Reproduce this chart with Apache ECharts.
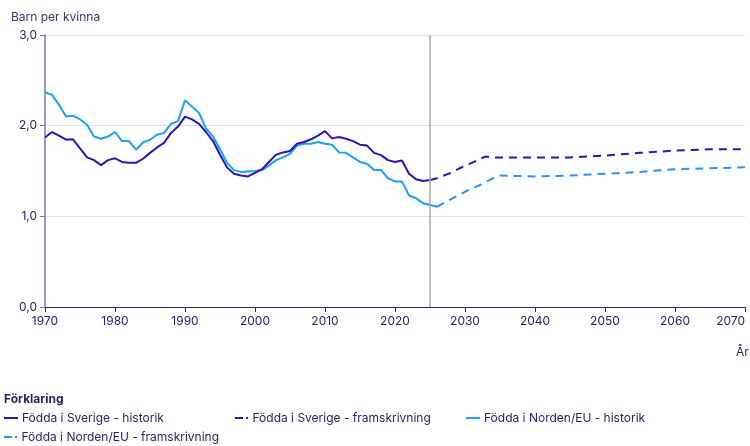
<!DOCTYPE html>
<html><head><meta charset="utf-8">
<script src="https://cdn.jsdelivr.net/npm/echarts@6/dist/echarts.min.js"></script>
<style>html,body{margin:0;padding:0;background:#fff}#c{width:750px;height:446px}</style>
</head><body><div id="c"></div>
<script>
const histYears = [1970,1971,1972,1973,1974,1975,1976,1977,1978,1979,1980,1981,1982,1983,1984,1985,1986,1987,1988,1989,1990,1991,1992,1993,1994,1995,1996,1997,1998,1999,2000,2001,2002,2003,2004,2005,2006,2007,2008,2009,2010,2011,2012,2013,2014,2015,2016,2017,2018,2019,2020,2021,2022,2023,2024,2025,2026];
const sverigeHist = [1.87,1.93,1.89,1.845,1.85,1.75,1.65,1.62,1.565,1.62,1.64,1.60,1.59,1.59,1.635,1.70,1.76,1.81,1.92,1.99,2.10,2.07,2.02,1.93,1.83,1.68,1.54,1.47,1.45,1.44,1.48,1.52,1.60,1.68,1.705,1.72,1.80,1.82,1.85,1.89,1.94,1.86,1.875,1.855,1.83,1.79,1.78,1.70,1.675,1.62,1.60,1.615,1.47,1.41,1.39,1.40];
const nordenHist = [2.37,2.34,2.23,2.10,2.11,2.07,2.01,1.88,1.855,1.88,1.93,1.83,1.83,1.735,1.815,1.845,1.90,1.92,2.02,2.05,2.28,2.21,2.14,1.97,1.88,1.74,1.59,1.51,1.49,1.495,1.50,1.51,1.56,1.62,1.65,1.69,1.78,1.80,1.80,1.82,1.80,1.79,1.705,1.70,1.65,1.60,1.58,1.51,1.51,1.42,1.385,1.385,1.23,1.20,1.145,1.125,1.105];
const sverigeProjYears = [2025,2026,2027,2028,2029,2030,2031,2032,2033,2034,2035,2040,2045,2050,2055,2060,2065,2070];
const sverigeProj = [1.40,1.42,1.45,1.48,1.52,1.56,1.59,1.63,1.66,1.65,1.65,1.65,1.65,1.67,1.70,1.725,1.74,1.74];
const nordenProjYears = [2026,2027,2028,2029,2030,2031,2032,2033,2034,2035,2040,2045,2050,2055,2060,2065,2070];
const nordenProj = [1.105,1.15,1.19,1.23,1.27,1.31,1.34,1.38,1.42,1.45,1.44,1.45,1.47,1.49,1.52,1.53,1.54];
const names = ['Födda i Sverige - historik','Födda i Sverige - framskrivning','Födda i Norden/EU - historik','Födda i Norden/EU - framskrivning'];
const nowYear = 2025;

const zip = (xs, ys) => ys.map((v, i) => [xs[i], v]);
const DARK = '#3313b3', LIGHT = '#1aa0ff', LIGHT2 = '#2f8fff', TXT = '#26246e';
const FONT = 'Inter';
const SOLID_ICON = 'path://M0,0H14V2H0Z';
const DASH_ICON = 'path://M0,0H8V2H0Z M11,0H13V2H11Z';

const chart = echarts.init(document.getElementById('c'));
const legendBase = {
  orient: 'horizontal', itemWidth: 14, itemHeight: 2, itemGap: 4,
  textStyle: {color: TXT, fontSize: 12, fontFamily: FONT, padding: [0, 0, 0, -1]}, selectedMode: false, padding: 0,
  itemStyle: {borderWidth: 0}, lineStyle: {width: 0, inactiveWidth: 0}
};
chart.setOption({
  animation: false,
  textStyle: {fontFamily: FONT},
  grid: {left: 45, right: 5, top: 35, bottom: 139, containLabel: false, outerBoundsMode: 'none'},
  xAxis: {
    type: 'value', min: 1970, max: 2070, interval: 10,
    axisLine: {show: true, lineStyle: {color: '#2b2a78', width: 1}},
    axisTick: {show: true, length: 5, lineStyle: {color: '#2b2a78'}},
    axisLabel: {color: TXT, fontSize: 12, fontFamily: FONT, margin: 8, formatter: v => String(v),
      alignMaxLabel: 'right', hideOverlap: false},
    splitLine: {show: false}
  },
  yAxis: {
    type: 'value', min: 0, max: 3, interval: 1,
    axisLine: {show: true, lineStyle: {color: '#7a76b0', width: 1.5}},
    axisTick: {show: true, length: 5, lineStyle: {color: '#7a76b0'}},
    axisLabel: {color: TXT, fontSize: 12, fontFamily: FONT, margin: 8, formatter: v => v.toFixed(1).replace('.', ',')},
    splitLine: {show: true, lineStyle: {color: '#e2e2e2', width: 1}}
  },
  legend: [
    Object.assign({}, legendBase, {left: 4, top: 412, data: [{name: names[0], icon: SOLID_ICON}]}),
    Object.assign({}, legendBase, {left: 235, top: 412, data: [{name: names[1], icon: DASH_ICON}]}),
    Object.assign({}, legendBase, {left: 466, top: 412, data: [{name: names[2], icon: SOLID_ICON}]}),
    Object.assign({}, legendBase, {left: 4, top: 431, data: [{name: names[3], icon: DASH_ICON}]})
  ],
  graphic: [
    {type: 'text', left: 11, top: 11, style: {text: 'Barn per kvinna', fill: '#3a3578', fontSize: 12, fontFamily: FONT}},
    {type: 'text', left: 736, top: 346, style: {text: 'År', fill: TXT, fontSize: 12, fontFamily: FONT}},
    {type: 'text', left: 4, top: 393, style: {text: 'Förklaring', fill: TXT, fontSize: 12, fontWeight: 'bold', fontFamily: FONT}}
  ],
  series: [
    {name: names[0], type: 'line', data: zip(histYears, sverigeHist), showSymbol: false, symbol: 'none',
     lineStyle: {color: DARK, width: 2}, itemStyle: {color: DARK}, z: 4,
     markLine: {silent: true, symbol: 'none', label: {show: false},
       lineStyle: {color: '#a8a8a8', width: 1.5, type: 'solid'}, data: [{xAxis: nowYear}]}},
    {name: names[1], type: 'line', data: zip(sverigeProjYears, sverigeProj), showSymbol: false, symbol: 'none',
     lineStyle: {color: DARK, width: 2, type: [8, 6]}, itemStyle: {color: DARK}, z: 4},
    {name: names[2], type: 'line', data: zip(histYears, nordenHist), showSymbol: false, symbol: 'none',
     lineStyle: {color: LIGHT, width: 2}, itemStyle: {color: LIGHT}, z: 3},
    {name: names[3], type: 'line', data: zip(nordenProjYears, nordenProj), showSymbol: false, symbol: 'none',
     lineStyle: {color: LIGHT2, width: 2, type: [8, 6]}, itemStyle: {color: LIGHT2}, z: 3}
  ]
});
</script></body></html>
